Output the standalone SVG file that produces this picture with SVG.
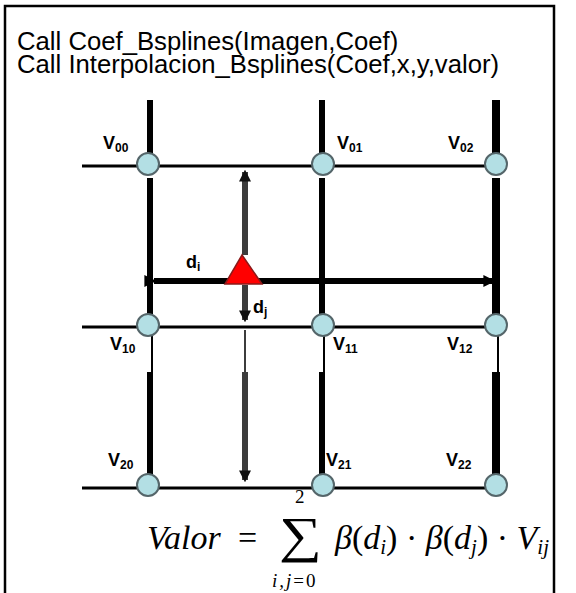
<svg xmlns="http://www.w3.org/2000/svg" width="576" height="593" viewBox="0 0 576 593">
<style>
.frame{fill:none;stroke:#000;stroke-width:2.5}
.code{font-family:"Liberation Sans",Arial,sans-serif;font-size:25.7px;fill:#000}
.thin{stroke:#000;stroke-width:3;fill:none}
.hair{stroke:#000;stroke-width:2;fill:none}
.thick{stroke:#000;stroke-width:6;fill:none}
.gray{stroke:#3c3c3c;stroke-width:6;fill:none}
.grayhair{stroke:#3c3c3c;stroke-width:2;fill:none}
.node{fill:#b3dfe4;stroke:#55666a;stroke-width:2}
.lbl{font-family:"Liberation Sans",Arial,sans-serif;font-weight:bold;font-size:18px;fill:#000}
.sub{font-size:12px}
.math{font-family:"Liberation Serif","Times New Roman",serif;fill:#000}
</style>
<defs>
<marker id="ah" viewBox="0 0 10 10" refX="8" refY="5" markerWidth="2" markerHeight="2" orient="auto" markerUnits="strokeWidth">
<path d="M0,0 L10,5 L0,10 z" fill="#000"/>
</marker>
<marker id="agh" viewBox="0 0 10 10" refX="8" refY="5" markerWidth="2" markerHeight="2" orient="auto" markerUnits="strokeWidth">
<path d="M0,0 L10,5 L0,10 z" fill="#111"/>
</marker>
</defs>
<rect width="576" height="593" fill="#fff"/>
<path class="frame" d="M5,593 V6 H554 V593"/>
<text class="code" x="17" y="50">Call Coef_Bsplines(Imagen,Coef)</text>
<text class="code" x="17" y="73">Call Interpolacion_Bsplines(Coef,x,y,valor)</text>
<g id="connectors">
<line class="thin" x1="82" y1="166" x2="497" y2="166"/>
<line class="thin" x1="82" y1="327" x2="497" y2="327"/>
<line class="thin" x1="82" y1="488" x2="497" y2="488"/>
<path class="thick" d="M150,100 V155 M150,178 V314 M150,372 V488"/>
<path class="hair" d="M152,336 V372"/>
<path class="thick" d="M322,100 V155 M322,178 V314 M322,372 V488"/>
<path class="hair" d="M324,336 V372"/>
<path class="thick" d="M496,100 V155 M496,178 V314 M496,372 V488" style="stroke-width:8"/>
<path class="hair" d="M498,336 V372"/>
<line class="thick" x1="154" y1="281" x2="493" y2="281" marker-start="url(#ah)" marker-end="url(#ah)"/>
<line class="gray" x1="245" y1="255" x2="245" y2="172" marker-end="url(#agh)"/>
<line class="gray" x1="245" y1="285" x2="245" y2="320" marker-end="url(#agh)"/>
<line class="grayhair" x1="245" y1="330" x2="245" y2="372"/>
<line class="gray" x1="245" y1="372" x2="245" y2="480" marker-end="url(#agh)"/>
</g>
<g id="n00"><circle class="node" cx="148" cy="164" r="11"/><text class="lbl" x="103" y="149">V<tspan class="sub" dy="3">00</tspan></text></g>
<g id="n01"><circle class="node" cx="323" cy="164" r="11"/><text class="lbl" x="337" y="149">V<tspan class="sub" dy="3">01</tspan></text></g>
<g id="n02"><circle class="node" cx="496" cy="164" r="11"/><text class="lbl" x="448" y="149">V<tspan class="sub" dy="3">02</tspan></text></g>
<g id="n10"><circle class="node" cx="148" cy="325" r="11"/><text class="lbl" x="110" y="350">V<tspan class="sub" dy="3">10</tspan></text></g>
<g id="n11"><circle class="node" cx="323" cy="325" r="11"/><text class="lbl" x="333" y="350">V<tspan class="sub" dy="3">11</tspan></text></g>
<g id="n12"><circle class="node" cx="496" cy="325" r="11"/><text class="lbl" x="447" y="350">V<tspan class="sub" dy="3">12</tspan></text></g>
<g id="n20"><circle class="node" cx="148" cy="485" r="11"/><text class="lbl" x="108" y="466">V<tspan class="sub" dy="3">20</tspan></text></g>
<g id="n21"><circle class="node" cx="323" cy="485" r="11"/><text class="lbl" x="326" y="466">V<tspan class="sub" dy="3">21</tspan></text></g>
<g id="n22"><circle class="node" cx="496" cy="485" r="11"/><text class="lbl" x="446" y="466">V<tspan class="sub" dy="3">22</tspan></text></g>
<g id="point"><path d="M242,255 L262,284 L225,284 z" fill="#ff0000" stroke="#8b1a1a" stroke-width="1.5"/></g>
<g id="di"><text class="lbl" x="186" y="268">d<tspan class="sub" dy="3">i</tspan></text></g>
<g id="dj"><text class="lbl" x="253" y="313">d<tspan class="sub" dy="3">j</tspan></text></g>
<g id="formula" class="math">
<text x="147" y="549" font-size="34" font-style="italic">Valor</text>
<text x="238" y="549" font-size="34">=</text>
<text transform="translate(279,552) scale(1.2,1)" font-size="50">∑</text>
<text x="295" y="503" font-size="19">2</text>
<text x="272" y="587" font-size="19" font-style="italic" letter-spacing="2">i,j<tspan font-style="normal">=0</tspan></text>
<text x="335" y="549" font-size="34"><tspan font-style="italic">β</tspan>(<tspan font-style="italic">d</tspan><tspan font-size="21" font-style="italic" dy="5">i</tspan><tspan dy="-5">)</tspan> · <tspan font-style="italic">β</tspan>(<tspan font-style="italic">d</tspan><tspan font-size="21" font-style="italic" dy="5">j</tspan><tspan dy="-5">)</tspan> · <tspan font-style="italic">V</tspan><tspan font-size="21" font-style="italic" dy="5">ij</tspan></text>
</g>
</svg>
